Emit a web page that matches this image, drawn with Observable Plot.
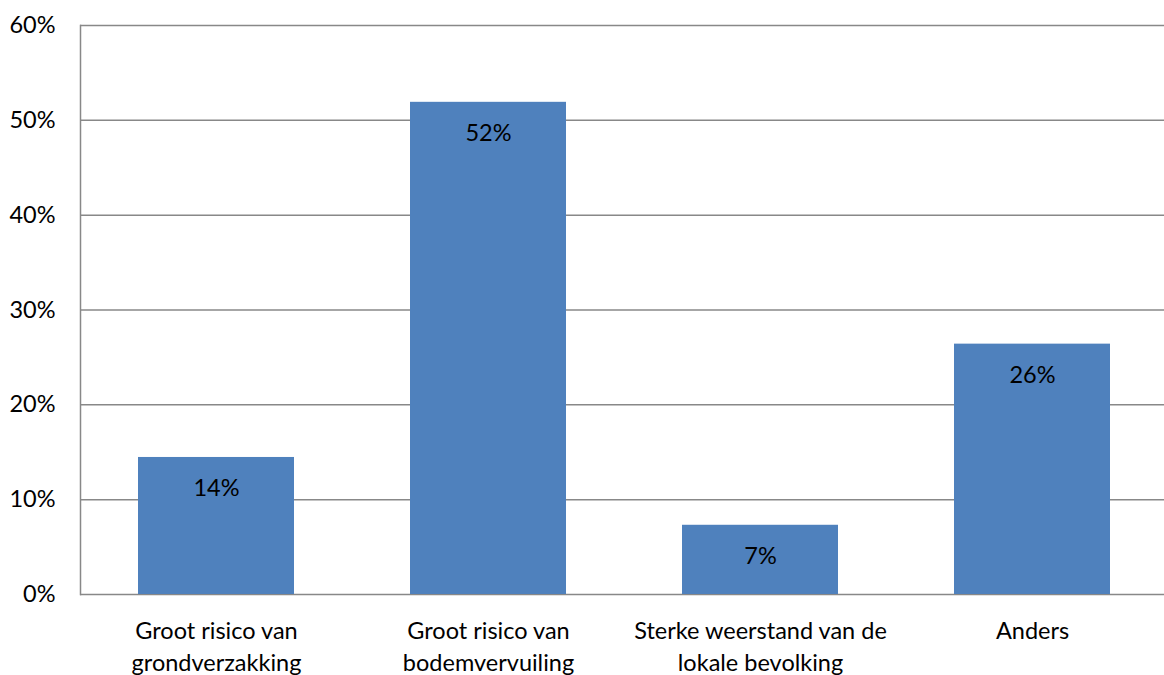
<!DOCTYPE html>
<html>
<head>
<meta charset="utf-8">
<script src="https://cdn.jsdelivr.net/npm/d3@7"></script>
<script src="https://cdn.jsdelivr.net/npm/@observablehq/plot@0.6"></script>
<style>
  html, body { margin: 0; padding: 0; background: #fff; }
  #chart svg { display: block; }
</style>
</head>
<body>
<div id="chart"></div>
<script>
const categories = [
  "Groot risico van\ngrondverzakking",
  "Groot risico van\nbodemvervuiling",
  "Sterke weerstand van de\nlokale bevolking",
  "Anders"
];
const values = [14.45, 51.9, 7.3, 26.4];
const valueLabels = ["14%", "52%", "7%", "26%"];
const yTicks = [0, 10, 20, 30, 40, 50, 60];

const data = categories.map((c, i) => ({cat: c, value: values[i], label: valueLabels[i]}));
const font = "Lato, 'Open Sans', sans-serif";

const chart = Plot.plot({
  width: 1164,
  height: 675,
  marginLeft: 80,
  marginRight: 0,
  marginTop: 25,
  marginBottom: 81,
  style: {fontFamily: font, fontSize: "23.5px", color: "#000", background: "#fff"},
  x: {domain: categories, range: [80, 1168], paddingInner: 0.426, paddingOuter: 0.213, label: null},
  y: {domain: [0, 60], label: null},
  marks: [
    Plot.ruleY(yTicks, {stroke: "#888", strokeWidth: 1.5}),
    Plot.frame({anchor: "left", stroke: "#888", strokeWidth: 1.5}),
    Plot.barY(data, {x: "cat", y: "value", fill: "#4F81BD"}),
    Plot.text(data, {x: "cat", y: "value", text: "label", dy: 31, fontSize: 23.5, fill: "#000"}),
    Plot.axisY({ticks: yTicks, tickSize: 0, tickPadding: 25, tickFormat: d => d + "%", fontSize: 23.5, label: null}),
    Plot.axisX({tickSize: 0, tickPadding: 21, fontSize: 23.5, lineHeight: 1.38, label: null})
  ]
});
document.getElementById("chart").appendChild(chart);
</script>
</body>
</html>
